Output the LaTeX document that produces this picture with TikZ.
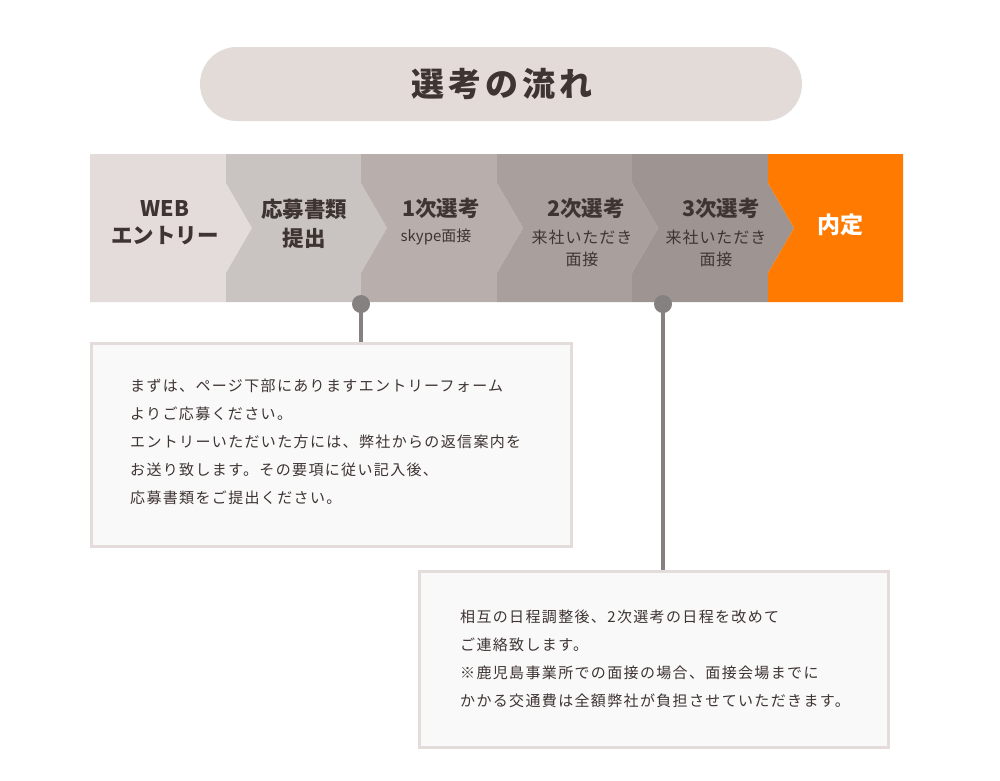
\documentclass[tikz,border=0pt]{standalone}
\usepackage{fontspec}
\setmainfont{Noto Sans CJK JP}
\newfontfamily\boxfont[LetterSpace=9]{Noto Sans CJK JP}
\newfontfamily\subfont[LetterSpace=6]{Noto Sans CJK JP}
\newfontfamily\titlefont[LetterSpace=12]{Noto Sans CJK JP}
\definecolor{pillc}{HTML}{E3DBD8}
\definecolor{segA}{HTML}{E3DCDA}
\definecolor{segB}{HTML}{C9C4C1}
\definecolor{segC}{HTML}{B8AEAB}
\definecolor{segD}{HTML}{A9A09D}
\definecolor{segE}{HTML}{9E9592}
\definecolor{segF}{HTML}{FF7A00}
\definecolor{ink}{HTML}{3E3432}
\definecolor{conc}{HTML}{868181}
\definecolor{boxfill}{HTML}{F9F9F9}
\definecolor{boxline}{HTML}{E3DCDA}
\begin{document}
\begin{tikzpicture}[x=1pt,y=-1pt,
  head/.style={text=ink,font=\fontsize{21.5}{21.5}\selectfont\bfseries,inner sep=0pt},
  sub/.style={text=ink,font=\subfont\fontsize{16}{16}\selectfont,inner sep=0pt},
  line/.style={text=ink,font=\boxfont\fontsize{15}{15}\selectfont,inner sep=0pt,anchor=west},
  dot/.style={circle,fill=conc,minimum size=18pt,inner sep=0pt},
  conn/.style={draw=conc,line width=4pt},
  infobox/.style={draw=boxline,fill=boxfill,line width=3pt,inner sep=0pt}]
\useasboundingbox (0,0) rectangle (1000,780);
\fill[white] (0,0) rectangle (1000,780);
% title pill
\node[fill=pillc,rounded corners=37pt,minimum width=602pt,minimum height=74pt,inner sep=0pt] (title) at (501,84) {};
\node[text=ink,font=\titlefont\fontsize{33}{33}\selectfont\bfseries,inner sep=0pt] (tt) at (502,84) {選考の流れ};
% band segments
\fill[segA] (90,154) -- (226,154) -- (226,183) -- (252,228) -- (226,273) -- (226,302) -- (90,302) -- cycle;
\fill[segB] (226,154) -- (361,154) -- (361,183) -- (387,228) -- (361,273) -- (361,302) -- (226,302) -- (226,273) -- (252,228) -- (226,183) -- cycle;
\fill[segC] (361,154) -- (497,154) -- (497,183) -- (523,228) -- (497,273) -- (497,302) -- (361,302) -- (361,273) -- (387,228) -- (361,183) -- cycle;
\fill[segD] (497,154) -- (632,154) -- (632,183) -- (658,228) -- (632,273) -- (632,302) -- (497,302) -- (497,273) -- (523,228) -- (497,183) -- cycle;
\fill[segE] (632,154) -- (768,154) -- (768,183) -- (794,228) -- (768,273) -- (768,302) -- (632,302) -- (632,273) -- (658,228) -- (632,183) -- cycle;
\fill[segF] (768,154) -- (903,154) -- (903,302) -- (768,302) -- (768,273) -- (794,228) -- (768,183) -- cycle;
% band texts
\node[head] (s1a) at (165,208) {WEB};
\node[head] (s1b) at (165,236) {エントリー};
\node[head] (s2a) at (304,209) {応募書類};
\node[head] (s2b) at (304,238) {提出};
\node[head] (s3a) at (441,208) {1次選考};
\node[sub,font=\fontsize{15}{15}\selectfont] (s3b) at (436,237) {skype面接};
\node[head] (s4a) at (586,208) {2次選考};
\node[sub] (s4b) at (582,237) {来社いただき};
\node[sub] (s4c) at (582,259) {面接};
\node[head] (s5a) at (721,208) {3次選考};
\node[sub] (s5b) at (716,237) {来社いただき};
\node[sub] (s5c) at (716,259) {面接};
\node[head,text=white,font=\fontsize{23}{23}\selectfont\bfseries] (s6) at (840,225) {内定};
% boxes
\node[infobox,minimum width=480pt,minimum height=203pt] (b1) at (331.5,444.5) {};
\node[infobox,minimum width=469pt,minimum height=176pt] (b2) at (654,659) {};
% connectors
\node[dot] (d1) at (361,304) {};
\node[dot] (d2) at (663,304) {};
\draw[conn] (d1.center) -- (d1 |- b1.north);
\draw[conn] (d2.center) -- (d2 |- b2.north);
% box 1 text
\node[line] (t11) at (130,386) {まずは、ページ下部にありますエントリーフォーム};
\node[line] (t12) at (130,414) {よりご応募ください。};
\node[line] (t13) at (130,442) {エントリーいただいた方には、弊社からの返信案内を};
\node[line] (t14) at (130,470) {お送り致します。その要項に従い記入後、};
\node[line] (t15) at (130,498) {応募書類をご提出ください。};
% box 2 text
\node[line] (t21) at (460,617) {相互の日程調整後、2次選考の日程を改めて};
\node[line] (t22) at (460,645) {ご連絡致します。};
\node[line] (t23) at (460,673) {※鹿児島事業所での面接の場合、面接会場までに};
\node[line] (t24) at (460,701) {かかる交通費は全額弊社が負担させていただきます。};
\end{tikzpicture}
\end{document}
